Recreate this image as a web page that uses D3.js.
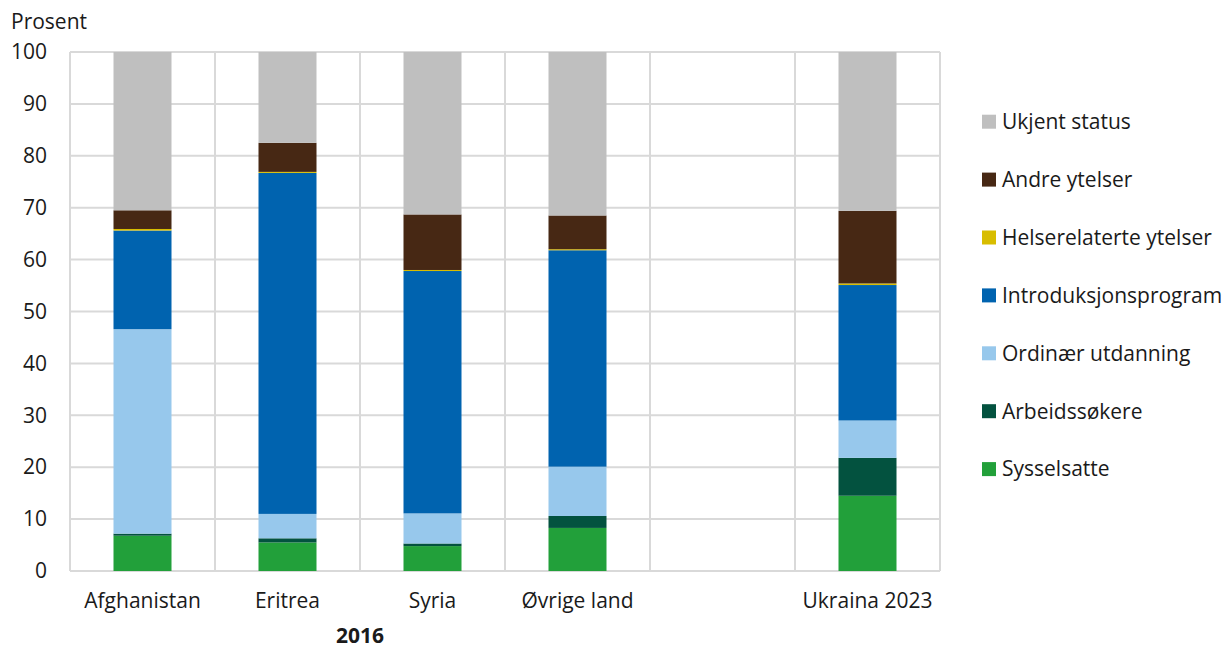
<!DOCTYPE html>
<html>
<head>
<meta charset="utf-8">
<script src="https://cdn.jsdelivr.net/npm/d3@7"></script>
<style>
  body { margin: 0; background: #fff; }
  svg text { font-family: "Open Sans", "Noto Sans", sans-serif; fill: #1a1a1a; }
</style>
</head>
<body>
<div id="chart"></div>
<script>
// --- Données
const categories = ["Afghanistan", "Eritrea", "Syria", "Øvrige land", "gap", "Ukraina 2023"];
const seriesNames = ["Sysselsatte", "Arbeidssøkere", "Ordinær utdanning", "Introduksjonsprogram",
  "Helserelaterte ytelser", "Andre ytelser", "Ukjent status"];
const seriesColors = ["#22a03a", "#03523f", "#97c8ec", "#0063af", "#d8bd00", "#472814", "#bfbfbf"];

// valeurs par catégorie (Afghanistan, Eritrea, Syria, Øvrige land, Ukraina 2023)
const sysselsatte = [6.8, 5.5, 4.8, 8.3, 14.5];
const arbeidssokere = [0.4, 0.8, 0.5, 2.3, 7.3];
const ordinaer = [39.4, 4.7, 5.8, 9.5, 7.2];
const intro = [19.0, 65.7, 46.7, 41.7, 26.1];
const helse = [0.3, 0.2, 0.2, 0.2, 0.3];
const andre = [3.6, 5.6, 10.7, 6.5, 14.0];
const ukjent = [30.5, 17.5, 31.3, 31.5, 30.6];

const yTicks = [0, 10, 20, 30, 40, 50, 60, 70, 80, 90, 100];
const groupLabel = "2016";
const yTitle = "Prosent";

// --- Construction des lignes pour d3.stack
const dataCats = categories.filter(c => c !== "gap");
const allSeries = [sysselsatte, arbeidssokere, ordinaer, intro, helse, andre, ukjent];
const rows = dataCats.map((c, i) => {
  const r = { cat: c };
  seriesNames.forEach((s, j) => r[s] = allSeries[j][i]);
  return r;
});

const width = 1228, height = 648;
const margin = { top: 52, right: 288, bottom: 77, left: 70 };
const fontSize = 21;

const svg = d3.select("#chart").append("svg")
  .attr("width", width)
  .attr("height", height);

const x = d3.scaleBand()
  .domain(categories)
  .range([margin.left, width - margin.right])
  .paddingInner(0)
  .paddingOuter(0);

const y = d3.scaleLinear()
  .domain([0, 100])
  .range([height - margin.bottom, margin.top]);

const gridColor = "#d9d9d9";

// --- Grille horizontale
svg.append("g")
  .selectAll("line")
  .data(yTicks)
  .join("line")
  .attr("x1", margin.left)
  .attr("x2", width - margin.right)
  .attr("y1", d => y(d))
  .attr("y2", d => y(d))
  .attr("stroke", gridColor)
  .attr("stroke-width", 2);

// --- Grille verticale (bords des catégories)
const vLines = categories.map(c => x(c)).concat([x.range()[1]]);
svg.append("g")
  .selectAll("line")
  .data(vLines)
  .join("line")
  .attr("x1", d => d)
  .attr("x2", d => d)
  .attr("y1", y(100))
  .attr("y2", y(0))
  .attr("stroke", gridColor)
  .attr("stroke-width", 2);

// --- Barres empilées
const stack = d3.stack().keys(seriesNames);
const stacked = stack(rows);
const barW = x.bandwidth() * 0.4;

svg.append("g")
  .selectAll("g")
  .data(stacked)
  .join("g")
  .attr("fill", (d, i) => seriesColors[i])
  .selectAll("rect")
  .data(d => d)
  .join("rect")
  .attr("x", d => x(d.data.cat) + (x.bandwidth() - barW) / 2)
  .attr("width", barW)
  .attr("y", d => y(d[1]))
  .attr("height", d => y(d[0]) - y(d[1]));

// --- Axe Y
const yAxis = svg.append("g")
  .attr("transform", `translate(${margin.left},0)`)
  .call(d3.axisLeft(y).tickValues(yTicks).tickSize(0).tickPadding(23));
yAxis.select(".domain").remove();
yAxis.selectAll("text").attr("font-size", fontSize).style("fill", "#1a1a1a");

// --- Axe X
const xAxis = svg.append("g")
  .attr("transform", `translate(0,${y(0)})`)
  .call(d3.axisBottom(x).tickSize(0).tickFormat(d => d === "gap" ? "" : d));
xAxis.select(".domain").remove();
xAxis.selectAll("text")
  .attr("y", 37)
  .attr("dy", 0)
  .attr("font-size", fontSize)
  .style("fill", "#1a1a1a");

// --- Titre de groupe "2016"
svg.append("text")
  .attr("x", (x("Afghanistan") + x("gap")) / 2)
  .attr("y", 643)
  .attr("text-anchor", "middle")
  .attr("font-size", fontSize)
  .attr("font-weight", "bold")
  .text(groupLabel);

// --- Titre axe Y
svg.append("text")
  .attr("x", 11)
  .attr("y", 29)
  .attr("font-size", fontSize)
  .text(yTitle);

// --- Légende (ordre inverse)
const legendItems = seriesNames.map((s, i) => ({ name: s, color: seriesColors[i] })).reverse();
const legend = svg.append("g")
  .selectAll("g")
  .data(legendItems)
  .join("g")
  .attr("transform", (d, i) => `translate(982,${121.7 + i * 57.9})`);

legend.append("rect")
  .attr("x", 0)
  .attr("y", -7)
  .attr("width", 14)
  .attr("height", 14)
  .attr("fill", d => d.color);

legend.append("text")
  .attr("x", 20)
  .attr("dy", "0.35em")
  .attr("font-size", fontSize)
  .text(d => d.name);
</script>
</body>
</html>
